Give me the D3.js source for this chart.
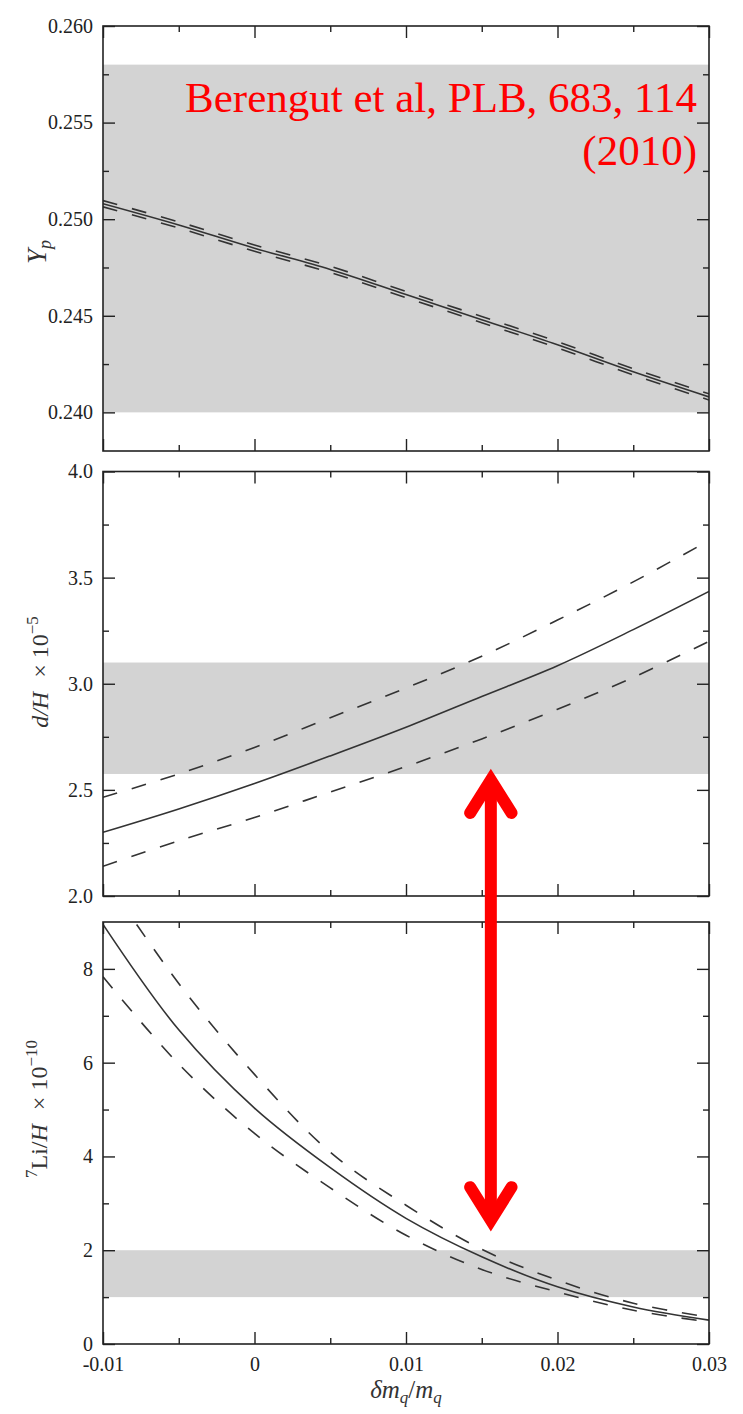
<!DOCTYPE html>
<html>
<head>
<meta charset="utf-8">
<script src="https://cdn.jsdelivr.net/npm/d3@7"></script>
<style>
  html, body { margin: 0; padding: 0; background: #fff; }
  svg { display: block; }
</style>
</head>
<body>
<svg id="chart" width="743" height="1414"></svg>
<script>
// Quark-mass variation grid (δm_q/m_q)
const dm = [-0.01, -0.005, 0, 0.005, 0.01, 0.015, 0.02, 0.025, 0.03];
const xTicks = [-0.01, 0, 0.01, 0.02, 0.03];
const xTickLabels = ["-0.01", "0", "0.01", "0.02", "0.03"];
const xMinorTicks = [-0.005, 0.005, 0.015, 0.025];

// Helium-4 mass fraction Y_p
const ypCentral = [0.2508, 0.2497, 0.2485, 0.2474, 0.2461, 0.2448, 0.2435, 0.2421, 0.2408];
const ypUpper   = [0.25096, 0.24986, 0.24866, 0.24756, 0.24626, 0.24496, 0.24366, 0.24226, 0.24096];
const ypLower   = [0.25064, 0.24954, 0.24834, 0.24724, 0.24594, 0.24464, 0.24334, 0.24194, 0.24064];
const ypBand = [0.240, 0.258];
const ypTicks = [0.240, 0.245, 0.250, 0.255, 0.260];
const ypTickLabels = ["0.240", "0.245", "0.250", "0.255", "0.260"];
const ypMinorTicks = [0.2425, 0.2475, 0.2525, 0.2575];

// Deuterium abundance d/H (×10^-5)
const dhCentral = [2.30, 2.41, 2.53, 2.66, 2.795, 2.94, 3.085, 3.255, 3.435];
const dhUpper   = [2.465, 2.575, 2.70, 2.84, 2.98, 3.13, 3.30, 3.48, 3.675];
const dhLower   = [2.14, 2.26, 2.37, 2.49, 2.61, 2.74, 2.88, 3.03, 3.20];
const dhBand = [2.575, 3.10];
const dhTicks = [2.0, 2.5, 3.0, 3.5, 4.0];
const dhTickLabels = ["2.0", "2.5", "3.0", "3.5", "4.0"];
const dhMinorTicks = [2.25, 2.75, 3.25, 3.75];

// Lithium-7 abundance 7Li/H (×10^-10)
const liCentral = [8.95, 6.70, 5.03, 3.76, 2.68, 1.86, 1.22, 0.79, 0.51];
const liUpper   = [10.0, 7.69, 5.75, 4.09, 2.96, 2.02, 1.36, 0.87, 0.57];
const liLower   = [7.83, 5.97, 4.49, 3.33, 2.32, 1.59, 1.11, 0.72, 0.47];
const liBand = [1.0, 2.0];
const liTicks = [0, 2, 4, 6, 8];
const liTickLabels = ["0", "2", "4", "6", "8"];
const liMinorTicks = [1, 3, 5, 7];

// Arrow joining the d/H and 7Li panels at a common δm_q/m_q
const arrowX = 0.0156;
const arrowTopValue = 2.6;     // in d/H units
const arrowBottomValue = 2.4;  // in 7Li/H units

const citationLines = ["Berengut et al, PLB, 683, 114", "(2010)"];

// ---------- layout ----------
const serif = '"Liberation Serif", "Times New Roman", Tinos, "DejaVu Serif", "Noto Serif", serif';
const svg = d3.select("#chart").style("font-family", serif);
const left = 103, right = 709;
const ink = "#222";
const curveInk = "#333";
const bandFill = "#d3d3d3";

const x = d3.scaleLinear().domain([-0.01, 0.03]).range([left, right]);

const panels = [
  { id: "yp", top: 26, bottom: 451, domain: [0.238, 0.260],
    central: ypCentral, upper: ypUpper, lower: ypLower, band: ypBand,
    ticks: ypTicks, labels: ypTickLabels, minor: ypMinorTicks },
  { id: "dh", top: 471.5, bottom: 896, domain: [2.0, 4.0],
    central: dhCentral, upper: dhUpper, lower: dhLower, band: dhBand,
    ticks: dhTicks, labels: dhTickLabels, minor: dhMinorTicks },
  { id: "li", top: 922, bottom: 1344, domain: [0, 9],
    central: liCentral, upper: liUpper, lower: liLower, band: liBand,
    ticks: liTicks, labels: liTickLabels, minor: liMinorTicks }
];

const defs = svg.append("defs");

panels.forEach((p, i) => {
  const y = d3.scaleLinear().domain(p.domain).range([p.bottom, p.top]);
  p.y = y;
  const g = svg.append("g");

  defs.append("clipPath").attr("id", "clip-" + p.id)
    .append("rect").attr("x", left).attr("y", p.top)
    .attr("width", right - left).attr("height", p.bottom - p.top);

  const plot = g.append("g").attr("clip-path", `url(#clip-${p.id})`);

  // observational band
  plot.append("rect")
    .attr("x", left).attr("width", right - left)
    .attr("y", y(p.band[1])).attr("height", y(p.band[0]) - y(p.band[1]))
    .attr("fill", bandFill);

  const line = d3.line()
    .x((d, k) => x(dm[k]))
    .y(d => y(d))
    .curve(d3.curveCatmullRom.alpha(0.5));

  [p.upper, p.lower].forEach(series => {
    plot.append("path").datum(series)
      .attr("d", line).attr("fill", "none")
      .attr("stroke", curveInk).attr("stroke-width", 1.6)
      .attr("stroke-dasharray", "15,15");
  });
  plot.append("path").datum(p.central)
    .attr("d", line).attr("fill", "none")
    .attr("stroke", curveInk).attr("stroke-width", 1.6);

  // axes with inward ticks on all four sides
  const major = 12, minor = 6;
  const ax = (gen, tr) => g.append("g").attr("transform", tr).call(gen)
    .attr("font-family", null)
    .call(s => s.select(".domain").remove())
    .call(s => s.selectAll("line").attr("stroke", ink).attr("stroke-width", 1.4));

  const styleLabels = s => s.selectAll("text").attr("fill", ink)
    .style("font-family", serif).style("font-size", "20px");

  const fmt = d => p.labels[p.ticks.indexOf(d)];
  ax(d3.axisLeft(y).tickValues(p.ticks).tickSizeInner(-major).tickSizeOuter(0)
      .tickPadding(10).tickFormat(fmt), `translate(${left},0)`)
    .call(styleLabels);
  ax(d3.axisLeft(y).tickValues(p.minor).tickSizeInner(-minor).tickSizeOuter(0).tickFormat(""),
     `translate(${left},0)`);
  ax(d3.axisRight(y).tickValues(p.ticks).tickSizeInner(-major).tickSizeOuter(0).tickFormat(""),
     `translate(${right},0)`);
  ax(d3.axisRight(y).tickValues(p.minor).tickSizeInner(-minor).tickSizeOuter(0).tickFormat(""),
     `translate(${right},0)`);

  const isLast = i === panels.length - 1;
  ax(d3.axisBottom(x).tickValues(xTicks).tickSizeInner(-major).tickSizeOuter(0)
      .tickPadding(isLast ? 13 : 0)
      .tickFormat(isLast ? (d => xTickLabels[xTicks.indexOf(d)]) : ""),
     `translate(0,${p.bottom})`)
    .call(styleLabels);
  ax(d3.axisBottom(x).tickValues(xMinorTicks).tickSizeInner(-minor).tickSizeOuter(0).tickFormat(""),
     `translate(0,${p.bottom})`);
  ax(d3.axisTop(x).tickValues(xTicks).tickSizeInner(-major).tickSizeOuter(0).tickFormat(""),
     `translate(0,${p.top})`);
  ax(d3.axisTop(x).tickValues(xMinorTicks).tickSizeInner(-minor).tickSizeOuter(0).tickFormat(""),
     `translate(0,${p.top})`);

  // frame
  g.append("rect")
    .attr("x", left).attr("y", p.top)
    .attr("width", right - left).attr("height", p.bottom - p.top)
    .attr("fill", "none").attr("stroke", ink).attr("stroke-width", 1.6);
});

// ---------- axis titles ----------
const titleText = () => svg.append("text").style("font-family", serif)
  .attr("text-anchor", "middle").attr("fill", "#333");

const yp = titleText().attr("transform", "translate(46,252) rotate(-90)");
yp.append("tspan").attr("font-style", "italic").attr("font-size", 27).text("Y");
yp.append("tspan").attr("font-style", "italic").attr("font-size", 18).attr("dy", 5).text("p");

const dh = titleText().attr("transform", "translate(48,672) rotate(-90)").attr("font-size", 24);
dh.append("tspan").attr("font-style", "italic").text("d/H");
dh.append("tspan").attr("dx", 14).text("× 10");
dh.append("tspan").attr("font-size", 17).attr("dy", -10).text("−5");

const li = titleText().attr("transform", "translate(47,1109) rotate(-90)").attr("font-size", 24);
li.append("tspan").attr("font-size", 17).attr("dy", -10).text("7");
li.append("tspan").attr("dy", 10).text("Li/");
li.append("tspan").attr("font-style", "italic").text("H");
li.append("tspan").attr("dx", 14).text("× 10");
li.append("tspan").attr("font-size", 17).attr("dy", -10).text("−10");

const xl = titleText().attr("x", x(0.01)).attr("y", 1398)
  .attr("font-size", 25).attr("font-style", "italic");
xl.append("tspan").text("δm");
xl.append("tspan").attr("font-size", 17).attr("dy", 5).text("q");
xl.append("tspan").attr("dy", -5).attr("font-style", "normal").text("/");
xl.append("tspan").text("m");
xl.append("tspan").attr("font-size", 17).attr("dy", 5).text("q");

// ---------- citation ----------
citationLines.forEach((t, k) => {
  svg.append("text").style("font-family", serif)
    .attr("x", 697).attr("y", 112 + k * 53)
    .attr("text-anchor", "end").attr("fill", "#ff0000")
    .attr("font-size", 43).text(t);
});

// ---------- double-headed arrow ----------
const ax0 = x(arrowX);
const tipTop = panels[1].y(arrowTopValue);
const tipBottom = panels[2].y(arrowBottomValue);
const sw = 12, miter = 11.3, armDx = 20.7, armDy = 33;
const arrow = svg.append("g").attr("stroke", "#ff0000").attr("fill", "none")
  .attr("stroke-width", sw);
arrow.append("line")
  .attr("x1", ax0).attr("x2", ax0)
  .attr("y1", tipTop + miter + 4).attr("y2", tipBottom - miter - 4);
const vTop = tipTop + miter, vBot = tipBottom - miter;
arrow.append("path")
  .attr("d", `M${ax0 - armDx},${vTop + armDy}L${ax0},${vTop}L${ax0 + armDx},${vTop + armDy}`)
  .attr("stroke-linecap", "round").attr("stroke-linejoin", "miter").attr("stroke-miterlimit", 10);
arrow.append("path")
  .attr("d", `M${ax0 - armDx},${vBot - armDy}L${ax0},${vBot}L${ax0 + armDx},${vBot - armDy}`)
  .attr("stroke-linecap", "round").attr("stroke-linejoin", "miter").attr("stroke-miterlimit", 10);
</script>
</body>
</html>
